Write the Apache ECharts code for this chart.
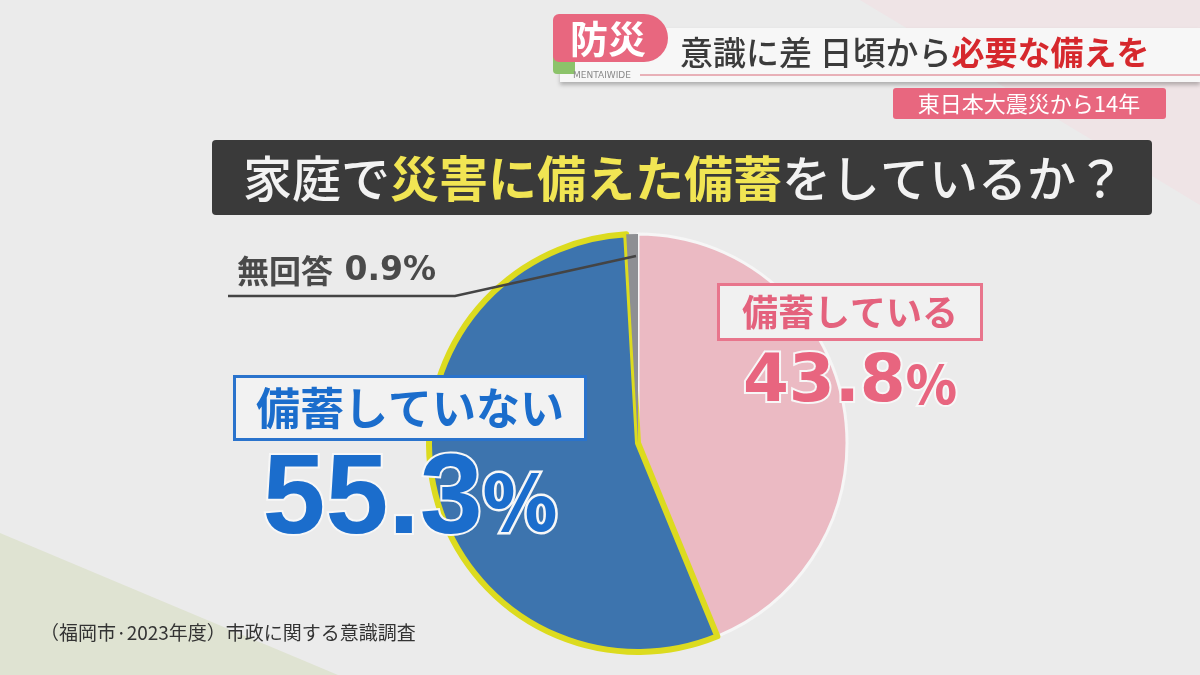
<!DOCTYPE html>
<html><head><meta charset="utf-8">
<script src="https://cdn.jsdelivr.net/npm/echarts@6/dist/echarts.min.js"></script>
<style>html,body{margin:0;padding:0;background:#ebebeb}#c{width:1200px;height:675px}</style>
</head><body><div id="c"></div>
<script>
// ---- data ----
const categories = ['備蓄している', '備蓄していない', '無回答'];
const values = [43.8, 55.3, 0.9];
const titlePlain1 = '家庭で';
const titleHighlight = '災害に備えた備蓄';
const titlePlain2 = 'をしているか？';
const headerTag = '防災';
const headerText1 = '意識に差 日頃から';
const headerText2 = '必要な備えを';
const headerSub = '東日本大震災から14年';
const brand = 'MENTAIWIDE';
const footnote = '（福岡市·2023年度）市政に関する意識調査';

const JP = '"Noto Sans CJK JP", sans-serif';
const sliceColors = ['#ebbac3', '#3d74ae', '#8d8f93'];
const sliceBorders = [{c:'#f6f6f6', w:3}, {c:'#dcdb1f', w:6}, {c:'#8d8f93', w:0}];

const labelRich = [
  {
    n: {fontFamily: JP, fontWeight: 'bold', fontSize: 36, color: '#e4627d', lineHeight: 38,
        backgroundColor: '#f1f1f1', borderColor: '#e8758c', borderWidth: 3, padding: [8, 22, 8, 22]},
    v: {fontFamily: '"DejaVu Sans", sans-serif', fontWeight: 'bold', fontSize: 66, color: '#e8657f',
        lineHeight: 106, textBorderColor: '#f7f7f7', textBorderWidth: 4},
    p: {fontFamily: JP, fontWeight: 900, fontSize: 52, color: '#e8657f',
        lineHeight: 106, textBorderColor: '#f7f7f7', textBorderWidth: 4}
  },
  {
    n: {fontFamily: JP, fontWeight: 'bold', fontSize: 44, color: '#1b6dcc', lineHeight: 44,
        backgroundColor: '#f2f2f2', borderColor: '#2a73cc', borderWidth: 3, padding: [8, 20, 8, 20]},
    v: {fontFamily: '"Liberation Sans", sans-serif', fontWeight: 'bold', fontSize: 113, color: '#1b6dcc',
        lineHeight: 144, textBorderColor: '#f7f7f7', textBorderWidth: 4},
    p: {fontFamily: JP, fontWeight: 900, fontSize: 76, color: '#1b6dcc',
        lineHeight: 144, textBorderColor: '#f7f7f7', textBorderWidth: 5}
  },
  {
    n: {fontFamily: JP, fontWeight: 'bold', fontSize: 32, color: '#4a4a4a', lineHeight: 36},
    v: {fontFamily: '"DejaVu Sans", sans-serif', fontWeight: 'bold', fontSize: 33, color: '#4a4a4a', lineHeight: 36}
  }
];

const labelPos = [
  {x: 850, y: 293, align: 'center', verticalAlign: 'top'},
  {x: 410, y: 386, align: 'center', verticalAlign: 'top'},
  {x: 237, y: 253, align: 'left', verticalAlign: 'top'}
];

const pieData = categories.map((name, i) => ({
  name: name,
  value: values[i],
  itemStyle: {color: sliceColors[i], borderColor: sliceBorders[i].c, borderWidth: sliceBorders[i].w},
  label: {
    show: true,
    position: 'outside',
    formatter: i < 2
      ? '{n|' + name + '}\n{v|' + values[i].toFixed(1) + '}{p|%}'
      : '{n|' + name + '}{v| ' + values[i].toFixed(1) + '%}',
    rich: labelRich[i]
  },
  labelLine: {show: false}
}));

const chart = echarts.init(document.getElementById('c'), null, {renderer: 'canvas'});
chart.setOption({
  backgroundColor: '#ebebeb',
  animation: false,
  graphic: [
    {type: 'polygon', z: -5, shape: {points: [[0, 533], [338, 675], [0, 675]]}, style: {fill: '#dfe3d2'}},
    {type: 'polygon', z: -5, shape: {points: [[860, 0], [1200, 0], [1200, 205]]}, style: {fill: '#efe4e6'}},
    // header band
    {type: 'rect', shape: {x: 560, y: 28, width: 640, height: 54},
     style: {fill: '#f7f7f7', shadowColor: 'rgba(0,0,0,0.25)', shadowBlur: 4, shadowOffsetY: 3}},
    {type: 'line', shape: {x1: 640, y1: 75, x2: 1200, y2: 75}, style: {stroke: '#d96a78', lineWidth: 1}},
    {type: 'rect', shape: {x: 553, y: 52, width: 22, height: 22, r: [0, 0, 0, 4]}, style: {fill: '#8cc36a'}},
    {type: 'rect', shape: {x: 553, y: 14, width: 115, height: 48, r: [6, 24, 24, 6]}, style: {fill: '#e8677f'}},
    {type: 'text', x: 608, y: 39, style: {text: headerTag, fill: '#ffffff', font: 'bold 38px ' + JP, align: 'center', verticalAlign: 'middle'}},
    {type: 'text', x: 573, y: 76, style: {text: brand, fill: '#8a8a8a', font: '9px "DejaVu Sans"', align: 'left', verticalAlign: 'middle'}},
    {type: 'text', x: 680, y: 52, style: {
      text: '{a|' + headerText1 + '}{b|' + headerText2 + '}',
      rich: {a: {fill: '#3b3b3b', fontSize: 33, fontFamily: JP, fontWeight: 500},
             b: {fill: '#d6282d', fontSize: 33, fontFamily: JP, fontWeight: 'bold'}},
      verticalAlign: 'middle', align: 'left'}},
    {type: 'rect', shape: {x: 893, y: 88, width: 273, height: 31, r: 3}, style: {fill: '#e8677f'}},
    {type: 'text', x: 1029, y: 104, style: {text: headerSub, fill: '#ffffff', font: '22px ' + JP, align: 'center', verticalAlign: 'middle'}},
    // title bar
    {type: 'rect', shape: {x: 212, y: 140, width: 940, height: 75, r: 4}, style: {fill: '#3a3a3a'}},
    {type: 'text', x: 243, y: 178, style: {
      text: '{w|' + titlePlain1 + '}{y|' + titleHighlight + '}{w|' + titlePlain2 + '}',
      rich: {w: {fill: '#f2f2f2', fontSize: 49, fontFamily: JP, fontWeight: 500},
             y: {fill: '#f1e553', fontSize: 49, fontFamily: JP, fontWeight: 'bold'}},
      verticalAlign: 'middle', align: 'left'}},
    // leader line for the small slice label
    {type: 'polyline', z: 100, shape: {points: [[228, 296], [455, 296], [636, 256]]},
     style: {stroke: '#444444', lineWidth: 2.5, fill: null}},
    {type: 'text', x: 40, y: 633, style: {text: footnote, fill: '#333333', font: '19px ' + JP, align: 'left', verticalAlign: 'middle'}}
  ],
  series: [{
    type: 'pie',
    center: [638, 443],
    radius: [0, 209],
    startAngle: 90,
    clockwise: true,
    avoidLabelOverlap: false,
    data: pieData,
    labelLayout: function (params) {
      return labelPos[params.dataIndex];
    },
    emphasis: {disabled: true}
  }]
});
</script>
</body></html>
